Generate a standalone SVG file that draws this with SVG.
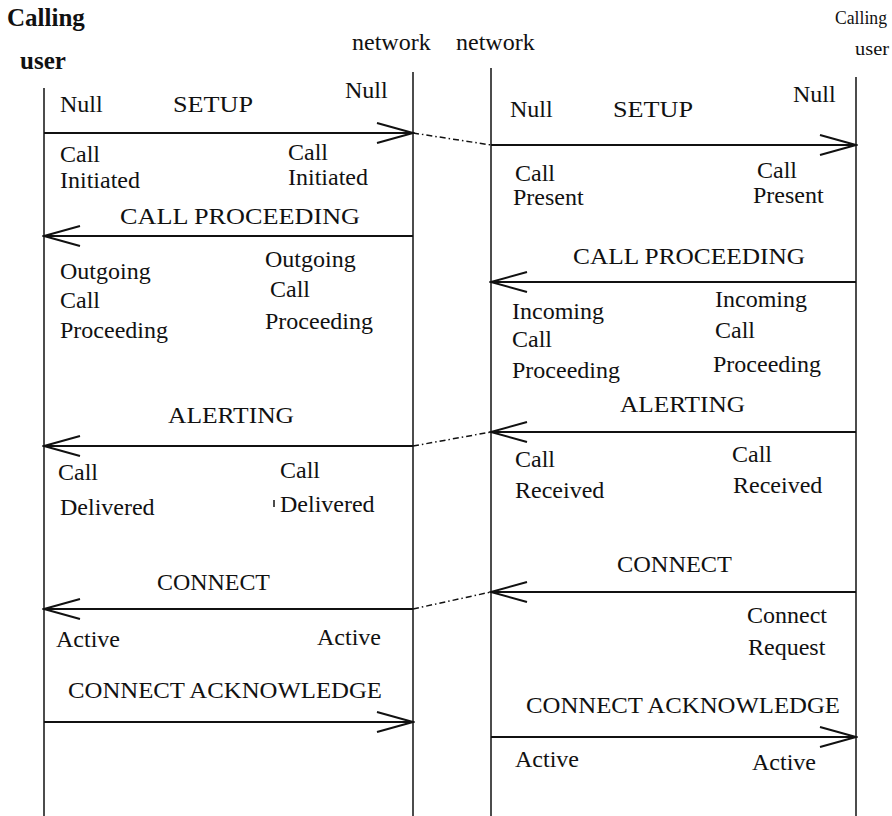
<svg xmlns="http://www.w3.org/2000/svg" width="892" height="816" viewBox="0 0 892 816" font-family="'Liberation Serif', 'DejaVu Serif', 'Noto Serif', Times, 'Liberation Sans', serif">
  <style>
    text { font-size: 24px; fill: #111; }
    .hdr { font-weight: bold; font-size: 25px; }
    .hdr2 { font-size: 18px; }
    .life { stroke: #111; stroke-width: 1.5; fill: none; }
    .msg { stroke: #111; stroke-width: 2; fill: none; marker-end: url(#open); }
    .link { stroke: #111; stroke-width: 1.5; fill: none; stroke-dasharray: 6 3 1.5 3; }
  </style>
  <defs>
    <!-- open V arrowhead for message lines -->
    <marker id="open" viewBox="-40 -12 42 24" refX="0" refY="0" markerWidth="42" markerHeight="24" markerUnits="userSpaceOnUse" orient="auto">
      <path d="M-36,-10 L0,0 L-36,10" fill="none" stroke="#111" stroke-width="2"/>
    </marker>
  </defs>

  <rect width="892" height="816" fill="#fff"/>

  <!-- parties and their lifelines -->
  <g id="calling-user-left">
    <text class="hdr" x="7" y="26">Calling</text>
    <text class="hdr" x="20" y="69">user</text>
    <line class="life" x1="44" y1="88" x2="44" y2="816"/>
  </g>
  <g id="network-left">
    <text x="352" y="50">network</text>
    <line class="life" x1="413" y1="72" x2="413" y2="816"/>
  </g>
  <g id="network-right">
    <text x="456" y="50">network</text>
    <line class="life" x1="491" y1="68" x2="491" y2="816"/>
  </g>
  <g id="calling-user-right">
    <text class="hdr2" x="835" y="24" textLength="52" lengthAdjust="spacingAndGlyphs">Calling</text>
    <text class="hdr2" x="855" y="55" textLength="34" lengthAdjust="spacingAndGlyphs">user</text>
    <line class="life" x1="856" y1="77" x2="856" y2="816"/>
  </g>

  <!-- messages -->
  <g id="connectors">
    <line class="msg" x1="44" y1="133" x2="413" y2="133"/>
    <line class="msg" x1="491" y1="145" x2="856" y2="145"/>
    <line class="link" x1="413" y1="133" x2="491" y2="145"/>

    <line class="msg" x1="413" y1="236" x2="44" y2="236"/>
    <line class="msg" x1="856" y1="282" x2="491" y2="282"/>

    <line class="msg" x1="413" y1="446" x2="44" y2="446"/>
    <line class="msg" x1="856" y1="432" x2="491" y2="432"/>
    <line class="link" x1="413" y1="446" x2="491" y2="432"/>

    <line class="msg" x1="413" y1="609" x2="44" y2="609"/>
    <line class="msg" x1="856" y1="592" x2="491" y2="592"/>
    <line class="link" x1="413" y1="609" x2="491" y2="592"/>

    <line class="msg" x1="44" y1="722" x2="413" y2="722"/>
    <line class="msg" x1="491" y1="737" x2="856" y2="737"/>
  </g>

  <!-- message names -->
  <g id="message-labels">
    <text x="173" y="112" textLength="80" lengthAdjust="spacingAndGlyphs">SETUP</text>
    <text x="613" y="117" textLength="80" lengthAdjust="spacingAndGlyphs">SETUP</text>
    <text x="120" y="224" textLength="240" lengthAdjust="spacingAndGlyphs">CALL PROCEEDING</text>
    <text x="573" y="264" textLength="232" lengthAdjust="spacingAndGlyphs">CALL PROCEEDING</text>
    <text x="168" y="423" textLength="126" lengthAdjust="spacingAndGlyphs">ALERTING</text>
    <text x="620" y="412" textLength="125" lengthAdjust="spacingAndGlyphs">ALERTING</text>
    <text x="157" y="590" textLength="113" lengthAdjust="spacingAndGlyphs">CONNECT</text>
    <text x="617" y="572" textLength="115" lengthAdjust="spacingAndGlyphs">CONNECT</text>
    <text x="68" y="698" textLength="314" lengthAdjust="spacingAndGlyphs">CONNECT ACKNOWLEDGE</text>
    <text x="526" y="713" textLength="314" lengthAdjust="spacingAndGlyphs">CONNECT ACKNOWLEDGE</text>
  </g>

  <!-- states, left side -->
  <g id="states-left">
    <text x="60" y="112">Null</text>
    <text x="345" y="98">Null</text>
    <text x="60" y="162">Call</text>
    <text x="60" y="188">Initiated</text>
    <text x="288" y="160">Call</text>
    <text x="288" y="185">Initiated</text>
    <text x="60" y="279">Outgoing</text>
    <text x="60" y="308">Call</text>
    <text x="60" y="338">Proceeding</text>
    <text x="265" y="267">Outgoing</text>
    <text x="270" y="297">Call</text>
    <text x="265" y="329">Proceeding</text>
    <text x="58" y="480">Call</text>
    <text x="60" y="515">Delivered</text>
    <text x="280" y="478">Call</text>
    <line x1="274" y1="500" x2="274" y2="507" stroke="#111" stroke-width="1.5"/>
    <text x="280" y="512">Delivered</text>
    <text x="56" y="647">Active</text>
    <text x="317" y="645">Active</text>
  </g>

  <!-- states, right side -->
  <g id="states-right">
    <text x="510" y="117">Null</text>
    <text x="793" y="102">Null</text>
    <text x="515" y="181">Call</text>
    <text x="513" y="205">Present</text>
    <text x="757" y="178">Call</text>
    <text x="753" y="203">Present</text>
    <text x="512" y="319">Incoming</text>
    <text x="512" y="347">Call</text>
    <text x="512" y="378">Proceeding</text>
    <text x="715" y="307">Incoming</text>
    <text x="715" y="338">Call</text>
    <text x="713" y="372">Proceeding</text>
    <text x="515" y="467">Call</text>
    <text x="515" y="498">Received</text>
    <text x="732" y="462">Call</text>
    <text x="733" y="493">Received</text>
    <text x="747" y="623">Connect</text>
    <text x="748" y="655">Request</text>
    <text x="515" y="767">Active</text>
    <text x="752" y="770">Active</text>
  </g>
</svg>
